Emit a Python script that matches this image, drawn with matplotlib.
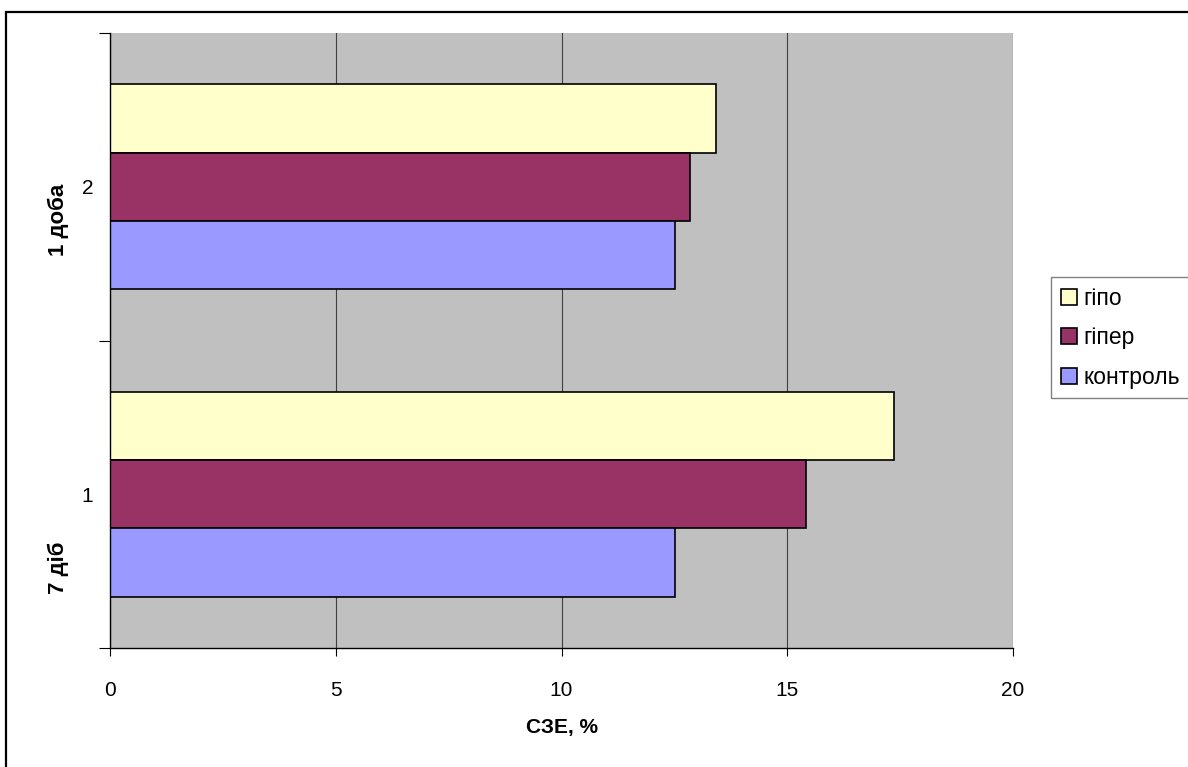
import matplotlib.pyplot as plt
from matplotlib.patches import Rectangle

plt.rcParams['font.family'] = ['Liberation Sans', 'DejaVu Sans']

# category positions on the y axis (1 = 7 діб, 2 = 1 доба)
categories = [1, 2]
series_names = ['гіпо', 'гіпер', 'контроль']
series_values = {
    'гіпо': [17.37, 13.42],
    'гіпер': [15.41, 12.85],
    'контроль': [12.51, 12.51],
}
colors = {'гіпо': '#FFFFCC', 'гіпер': '#993366', 'контроль': '#9999FF'}
period_labels = ['7 діб', '1 доба']
x_ticks = [0, 5, 10, 15, 20]

W, H = 1188, 767
fs = 15
fig = plt.figure(figsize=(W / 100, H / 100), dpi=100)
ax = fig.add_axes([110 / W, 1 - 648 / H, (1013 - 110) / W, (648 - 33) / H])
ax.set_facecolor('#C0C0C0')

# three bars per category, gap width 150%
bar_h = 1 / 4.5
offsets = {'гіпо': bar_h, 'гіпер': 0.0, 'контроль': -bar_h}
for name in series_names:
    ys = [c + offsets[name] for c in categories]
    ax.barh(ys, series_values[name], height=bar_h, color=colors[name],
            edgecolor='black', linewidth=1.2, label=name, zorder=3)

ax.set_xlim(0, 20)
ax.set_ylim(0.5, 2.5)
ax.set_xticks(x_ticks)
ax.set_xticklabels([str(t) for t in x_ticks], fontsize=fs)
ax.tick_params(axis='x', length=6, width=0.8, pad=18)
ax.set_yticks([0.5, 1.5, 2.5])
ax.set_yticklabels([])
ax.tick_params(axis='y', length=8, width=0.8)
ax.set_yticks(categories, minor=True)
ax.set_yticklabels([str(c) for c in categories], minor=True, fontsize=fs)
ax.tick_params(axis='y', which='minor', length=0, pad=12)

ax.xaxis.grid(True, color='#404040', linewidth=0.8, zorder=1)
ax.set_axisbelow(True)
for side in ['top', 'right']:
    ax.spines[side].set_visible(False)
for side in ['left', 'bottom']:
    ax.spines[side].set_linewidth(1.0)
    ax.spines[side].set_zorder(4)

ax.set_xlabel('СЗЕ, %', fontsize=fs, fontweight='bold', labelpad=13)

# rotated period labels beside the category numbers
fig.text(58 / W, 1 - 568 / H, period_labels[0], rotation=90, fontsize=16,
         fontweight='bold', ha='center', va='center')
fig.text(58 / W, 1 - 220 / H, period_labels[1], rotation=90, fontsize=16,
         fontweight='bold', ha='center', va='center')

leg = fig.legend(loc='upper left', bbox_to_anchor=(1051 / W, 1 - 277 / H),
                 fontsize=16.5, frameon=True, fancybox=False, handlelength=0.7,
                 handleheight=0.7, handletextpad=0.3, labelspacing=0.72,
                 borderpad=0.42, borderaxespad=0)
leg.get_frame().set_edgecolor('#606060')
leg.get_frame().set_linewidth(1.0)

# outer chart border (top and left edges visible)
fig.patches.append(Rectangle((6 / W, -0.05), 1.1, 1 - 12 / H + 0.05,
                             transform=fig.transFigure, fill=False,
                             edgecolor='black', linewidth=1.6))

fig.savefig('out.png', dpi=100)
